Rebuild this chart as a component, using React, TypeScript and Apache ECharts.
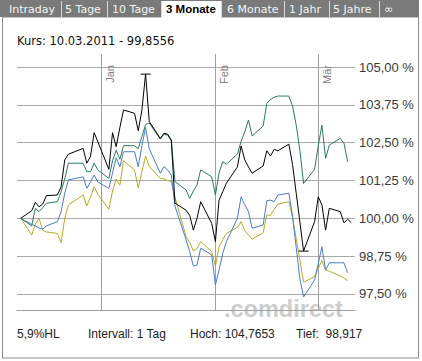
import React, { useEffect, useRef } from 'react';
import * as echarts from 'echarts';

// ---- data ----
const dates = [
  '2010-12-10', '2010-12-13', '2010-12-14', '2010-12-15', '2010-12-16', '2010-12-17',
  '2010-12-20', '2010-12-21', '2010-12-22', '2010-12-23', '2010-12-27', '2010-12-28',
  '2010-12-29', '2010-12-30', '2010-12-31', '2011-01-03', '2011-01-04', '2011-01-05',
  '2011-01-06', '2011-01-07', '2011-01-10', '2011-01-11', '2011-01-12', '2011-01-13',
  '2011-01-14', '2011-01-17', '2011-01-18', '2011-01-19', '2011-01-20', '2011-01-21',
  '2011-01-24', '2011-01-25', '2011-01-26', '2011-01-27', '2011-01-28', '2011-01-31',
  '2011-02-01', '2011-02-02', '2011-02-03', '2011-02-04', '2011-02-07', '2011-02-08',
  '2011-02-09', '2011-02-10', '2011-02-11', '2011-02-14', '2011-02-15', '2011-02-16',
  '2011-02-17', '2011-02-18', '2011-02-21', '2011-02-22', '2011-02-23', '2011-02-24',
  '2011-02-25', '2011-02-28', '2011-03-01', '2011-03-02', '2011-03-03', '2011-03-04',
  '2011-03-07', '2011-03-08', '2011-03-09', '2011-03-10',
];

const kurs = [
  100.0, 100.25, 100.53, 100.38, 100.47, 100.75,
  100.77, 101.04, 101.93, 102.12, 102.31, 101.82,
  102.04, 102.83, 102.53, 101.62, 102.83, 102.37,
  103.0, 103.58, 103.47, 102.89, 103.58, 104.7653,
  103.2, 102.64, 102.81, 102.78, 102.59, 100.5,
  100.27, 100.1, 99.61, 100.0, 100.55, 99.83,
  99.23, 100.6, 100.88, 101.16, 101.7, 102.39,
  101.93, 101.7, 101.49, 101.73, 102.23, 102.06,
  102.28, 102.23, 102.45, 101.78, 100.83, 99.88,
  98.917, 99.89, 100.71, 100.44, 99.61, 100.33,
  100.22, 99.85, 99.97, 99.8556,
];

const vergleichGruen = [
  100.0, 99.75, 100.33, 100.22, 100.35, 100.5,
  100.55, 100.88, 101.3, 101.82, 101.82, 101.54,
  101.54, 101.82, 101.6, 101.32, 101.9, 102.25,
  101.95, 102.4, 102.4, 102.3, 102.7, 103.1,
  103.15, 102.62, 102.78, 102.75, 102.55, 101.21,
  100.94, 100.66, 100.9, 101.1, 101.6, 101.37,
  100.77, 101.5, 101.87, 101.79, 102.12, 102.55,
  102.86, 103.25, 102.72, 103.05, 103.8, 103.93,
  104.0, 104.04, 104.04, 103.71, 103.08, 102.24,
  101.15, 101.62, 102.4, 103.08, 101.98, 102.42,
  102.64, 102.48, 101.87, null,
];

const vergleichBlau = [
  100.0, 99.8, 99.75, 99.68, 99.64, 99.75,
  99.89, 100.22, 100.83, 101.27, 101.37, 100.99,
  101.2, 101.43, 101.2, 100.99, 101.5, 102.0,
  101.7, 102.2, 102.2, 101.7, 102.4, 103.0,
  102.3, 101.49, 101.71, 101.6, 101.43, 100.4,
  99.3, 98.9, 98.42, 98.46, 99.01, 98.79,
  97.8, 98.29, 98.84, 99.23, 100.0, 100.71,
  100.45, 100.22, 99.67, 99.78, 100.58, 100.6,
  100.55, 100.77, 100.83, 100.07, 99.04, 98.0,
  97.4, 97.96, 98.5, 99.06, 98.29, 98.53,
  98.53, 98.53, 98.2, null,
];

const vergleichOliv = [
  100.0, 99.45, 99.8, 100.0, 99.61, 99.55,
  99.5, 99.19, 100.0, 100.44, 100.77, 100.41,
  100.7, 101.04, 100.8, 100.3, 100.9, 101.3,
  101.1, 101.9, 101.6, 101.0, 101.55, 102.06,
  101.71, 101.32, 101.3, 101.25, 101.21, 100.7,
  99.4, 99.2, 98.92, 99.0, 99.23, 98.9,
  98.42, 99.06, 99.3, 99.5, 99.7, 99.89,
  99.6, 99.45, 99.31, 99.52, 100.11, 100.1,
  100.3, 100.47, 100.55, 100.03, 99.32, 98.61,
  97.89, 98.07, 98.35, 98.6, 98.29, 98.25,
  98.1, 98.02, 97.94, null,
];

const yTicks = [97.5, 98.75, 100, 101.25, 102.5, 103.75, 105];
const monthStarts = ['2011-01-01', '2011-02-01', '2011-03-01'];
const monthNames = ['Jan', 'Feb', 'Mär'];
const tabs = ['Intraday', '5 Tage', '10 Tage', '3 Monate', '6 Monate', '1 Jahr', '5 Jahre', '∞'];
const activeTab = '3 Monate';
const intervalText = 'Intervall: 1 Tag';

// ---- layout (not data) ----
const tabTextX = [9, 65, 112, 166, 227, 289, 333, 384];
const tabSepX = [61, 107, 161, 221, 284, 329, 379];

const de = (v: number, digits?: number) =>
  (digits === undefined ? String(v) : v.toFixed(digits)).replace('.', ',');

export default function App() {
  const ref = useRef<HTMLDivElement>(null);

  useEffect(() => {
    const chart = echarts.init(ref.current!, null, { renderer: 'svg' });

    const last = kurs.length - 1;
    const [yy, mm, dd] = dates[last].split('-');
    const hoch = Math.max(...kurs);
    const tief = Math.min(...kurs);
    const hl = ((hoch - tief) / tief) * 100;

    const pair = (arr: (number | null)[]) => dates.map((d, i) => [d, arr[i]]);

    const tabGraphics: any[] = [
      { type: 'rect', shape: { x: 0, y: 0, width: 419, height: 17 }, style: { fill: '#7a7a7a' }, z: 10 },
    ];
    tabs.forEach((t, i) => {
      const active = t === activeTab;
      if (active) {
        tabGraphics.push({
          type: 'rect', shape: { x: 161, y: 1, width: 60, height: 17 },
          style: { fill: '#ffffff' }, z: 11,
        });
      }
      tabGraphics.push({
        type: 'text', x: tabTextX[i], y: 9, z: 12,
        style: active
          ? {
              text: t, fill: '#000', fontFamily: 'Liberation Sans', fontSize: 11.5,
              fontWeight: 'bold', verticalAlign: 'middle',
            }
          : {
              text: t, fill: '#f4f4f4', fontFamily: 'DejaVu Sans', fontSize: 11,
              verticalAlign: 'middle',
            },
      });
    });
    tabSepX.forEach((x) => {
      tabGraphics.push({
        type: 'line', shape: { x1: x + 0.5, y1: 1, x2: x + 0.5, y2: 17 },
        style: { stroke: '#d8d8d8', lineWidth: 1 }, z: 12,
      });
    });

    const option: any = {
      animation: false,
      backgroundColor: '#ffffff',
      grid: { left: 17, right: 67, top: 54, bottom: 51, containLabel: false },
      xAxis: {
        type: 'time',
        min: '2010-12-09',
        max: '2011-03-11',
        axisLine: { show: true, lineStyle: { color: '#a0a0a0', width: 1 } },
        axisTick: { show: false },
        axisLabel: { show: false },
        splitLine: { show: false },
      },
      yAxis: {
        type: 'value',
        position: 'right',
        min: 96.97,
        max: 105.43,
        axisLine: { show: false },
        axisTick: { show: false, customValues: yTicks },
        axisLabel: {
          customValues: yTicks,
          formatter: (v: number) => de(v, 2) + ' %',
          color: '#3a3a3a',
          fontFamily: 'Liberation Sans',
          fontSize: 13,
          margin: 4,
        },
        splitLine: { show: true, lineStyle: { color: '#a8a8a8', width: 1 } },
      },
      graphic: [
        ...tabGraphics,
        {
          type: 'rect', shape: { x: 2.5, y: 17, width: 416, height: 341 },
          style: { fill: 'none', stroke: '#8a8a8a', lineWidth: 1 }, z: 5,
        },
        {
          type: 'text', x: 17, y: 41,
          style: {
            text: `Kurs: ${dd}.${mm}.${yy} - ${de(kurs[last])}`,
            fill: '#111', fontFamily: 'DejaVu Sans', fontSize: 11.5, verticalAlign: 'middle',
          },
        },
        {
          type: 'text', x: 224, y: 297, z: -1,
          style: {
            text: '.comdirect', fill: '#cdcdcd', fontFamily: 'Liberation Sans',
            fontSize: 23.5, fontWeight: 'bold', verticalAlign: 'alphabetic',
          },
        },
        {
          type: 'text', x: 17, y: 334,
          style: { text: de(Number(hl.toFixed(1))) + '%HL', fill: '#222', fontFamily: 'Liberation Sans', fontSize: 12, verticalAlign: 'middle' },
        },
        {
          type: 'text', x: 88, y: 334,
          style: { text: intervalText, fill: '#222', fontFamily: 'Liberation Sans', fontSize: 12, verticalAlign: 'middle' },
        },
        {
          type: 'text', x: 190, y: 334,
          style: { text: 'Hoch: ' + de(hoch), fill: '#222', fontFamily: 'Liberation Sans', fontSize: 12, verticalAlign: 'middle' },
        },
        {
          type: 'text', x: 296, y: 334,
          style: { text: 'Tief:  ' + de(tief), fill: '#222', fontFamily: 'Liberation Sans', fontSize: 12, verticalAlign: 'middle' },
        },
      ],
      series: [
        {
          type: 'line', data: pair(vergleichOliv), showSymbol: false, connectNulls: false,
          lineStyle: { color: '#b3ad22', width: 1 }, itemStyle: { color: '#b3ad22' }, z: 3,
        },
        {
          type: 'line', data: pair(vergleichBlau), showSymbol: false,
          lineStyle: { color: '#4a7bd4', width: 1 }, itemStyle: { color: '#4a7bd4' }, z: 3,
        },
        {
          type: 'line', data: pair(vergleichGruen), showSymbol: false,
          lineStyle: { color: '#2d7a5c', width: 1 }, itemStyle: { color: '#2d7a5c' }, z: 3,
        },
        {
          type: 'line', data: pair(kurs), showSymbol: false,
          lineStyle: { color: '#000000', width: 1 }, itemStyle: { color: '#000000' }, z: 4,
          markPoint: {
            symbol: 'rect', symbolSize: [10, 1], silent: true,
            itemStyle: { color: '#000' },
            label: { show: false },
            data: [{ type: 'max' }, { type: 'min' }],
          },
          markLine: {
            silent: true, symbol: 'none',
            lineStyle: { color: '#a0a0a0', type: 'solid', width: 1 },
            label: {
              show: true, position: 'insideEndBottom', formatter: '{b}',
              color: '#808080', fontFamily: 'Liberation Sans', fontSize: 11, distance: 3,
              padding: [0, 8, 0, 0],
            },
            data: monthStarts.map((d, i) => ({ xAxis: d, name: monthNames[i] })),
            z: 1,
          },
        },
      ],
    };

    chart.setOption(option);
    return () => chart.dispose();
  }, []);

  return (
    <div
      ref={ref}
      style={{ position: 'fixed', left: 0, top: 0, width: 422, height: 361, background: '#fff' }}
    />
  );
}
